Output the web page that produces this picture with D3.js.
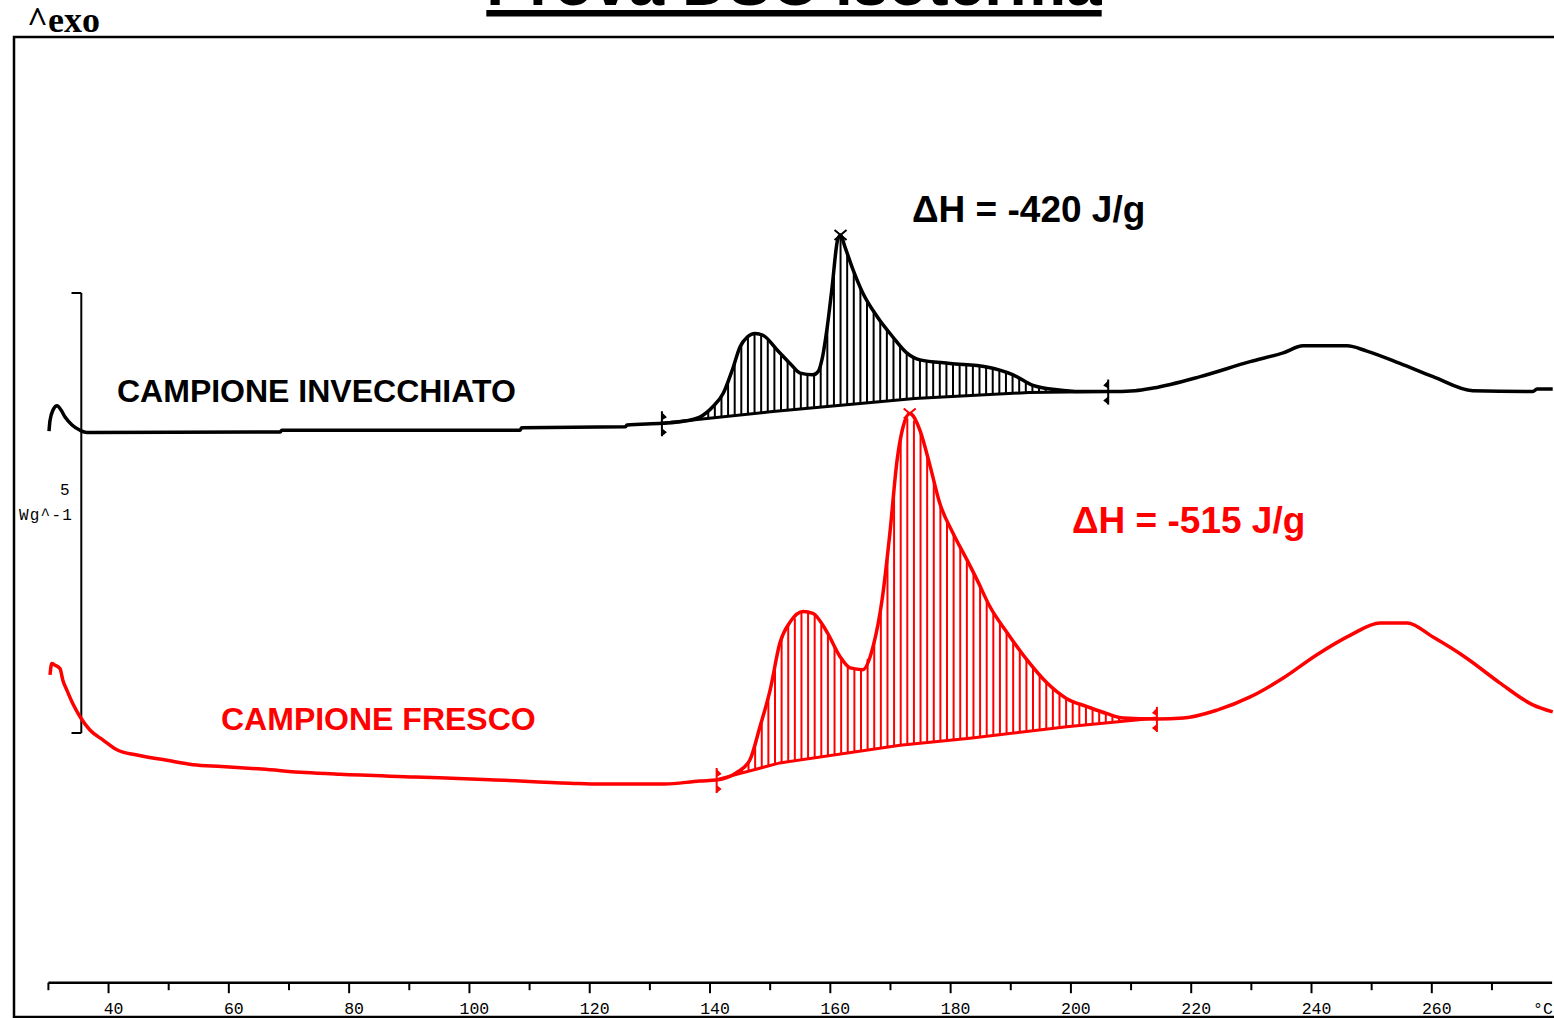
<!DOCTYPE html>
<html>
<head>
<meta charset="utf-8">
<script src="https://cdn.jsdelivr.net/npm/d3@7"></script>
<style>
  html, body { margin: 0; padding: 0; background: #fff; overflow: hidden; }
  svg { display: block; }
</style>
</head>
<body>
<script>
const width = 1554, height = 1018;

// campione invecchiato: temperatura (°C) e flusso termico (W/g, offset arbitrario)
const agedT = [30.1, 30.27, 30.77, 31.44, 32.1, 32.77, 33.93, 35.26, 36.4, 68.5, 68.8, 108.4, 108.7, 125.9, 126.2,
  132, 135.3, 138.3, 140.5, 142.2, 143.7, 145.0, 146.2, 147.5, 148.8, 151.2, 153.3, 155.0, 157.1, 158.0, 158.6,
  159.5, 160.3, 161.2, 161.7, 162.4, 163.8, 165.4, 167.8, 170.4, 172.7, 174.9, 179.9, 186.0, 190.4, 193.7, 197.7,
  201.5, 206.2, 210.7, 213.7, 221.5, 229.8, 235.3, 238.6, 245.9, 249.2, 254.7, 260.2, 266.8, 276.8, 277.5, 280.1];
const agedHF = [3.43, 3.55, 3.67, 3.72, 3.67, 3.59, 3.50, 3.44, 3.415, 3.42, 3.44, 3.44, 3.47, 3.48, 3.50,
  3.52, 3.54, 3.59, 3.71, 3.86, 4.125, 4.39, 4.50, 4.54, 4.52, 4.35, 4.20, 4.09, 4.07, 4.11, 4.24,
  4.62, 5.07, 5.60, 5.66, 5.53, 5.26, 5.00, 4.73, 4.50, 4.32, 4.24, 4.20, 4.16, 4.07, 3.95, 3.90,
  3.88, 3.88, 3.89, 3.92, 4.05, 4.22, 4.32, 4.40, 4.40, 4.34, 4.20, 4.05, 3.89, 3.88, 3.91, 3.91];

// campione fresco
const freshT = [30.27, 30.56, 31.1, 31.94, 32.4, 33.05, 34.15, 35.26, 36.9, 39.1, 41.4, 44.7, 49.7, 54.05, 58.8,
  65.5, 72.7, 78.5, 91.0, 103.4, 116.7, 121.7, 132.5, 138.3, 141.1, 144.4, 146.6, 148.3, 150.0, 151.6, 153.3,
  155.5, 157.1, 159.5, 161.6, 163.3, 165.4, 167.1, 168.6, 169.9, 171.1, 172.1, 173.2, 174.9, 176.6, 178.2, 180.4,
  182.7, 184.4, 186.5, 189.4, 192.7, 196.0, 199.3, 202.7, 206.0, 208.7, 214.3, 218.7, 224.3, 229.8, 235.3, 240.9,
  246.4, 251.4, 255.9, 260.2, 265.8, 271.3, 276.8, 280.1];
const freshHF = [0.66, 0.79, 0.77, 0.73, 0.60, 0.49, 0.32, 0.185, 0.034, -0.08, -0.19, -0.25, -0.31, -0.36, -0.38,
  -0.41, -0.45, -0.47, -0.50, -0.53, -0.57, -0.58, -0.58, -0.545, -0.534, -0.45, -0.31, 0.07, 0.49, 1.02, 1.26,
  1.38, 1.36, 1.14, 0.87, 0.74, 0.72, 0.98, 1.51, 2.27, 3.10, 3.48, 3.63, 3.44, 3.03, 2.61, 2.27,
  1.97, 1.74, 1.44, 1.14, 0.83, 0.57, 0.39, 0.30, 0.22, 0.17, 0.16, 0.17, 0.26, 0.41, 0.625, 0.89,
  1.11, 1.25, 1.25, 1.09, 0.85, 0.57, 0.32, 0.24];

// linee di base dell'integrazione
const agedBaseT = [132, 150, 174, 193, 206.2];
const agedBaseHF = [3.52, 3.65, 3.80, 3.87, 3.88];
const freshBaseT = [141.1, 151.6, 171.6, 183.2, 199.3, 214.3];
const freshBaseHF = [-0.53, -0.34, -0.14, -0.06, 0.07, 0.17];

// limiti di integrazione e picchi
const agedLimits = [132, 206.2];
const freshLimits = [141.1, 214.3];
const agedPeak = 161.7;
const freshPeak = 173.2;

const majorTicks = [40, 60, 80, 100, 120, 140, 160, 180, 200, 220, 240, 260];
const minorTicks = [30, 50, 70, 90, 110, 130, 150, 170, 190, 210, 230, 250, 270];
const tickLabels = ['40', '60', '80', '100', '120', '140', '160', '180', '200', '220', '240', '260'];
const scaleBar = [0, 5];

const RED = '#ff0000';
const sans = '"Liberation Sans", Arial, sans-serif';
const mono = '"Liberation Mono", "Courier New", monospace';

const x = d3.scaleLinear().domain([30, 280]).range([48.4, 1552.1]);
const y = d3.scaleLinear().domain([-3.2, 7.9]).range([1014.6, 37.8]);

const svg = d3.select('body').append('svg')
  .attr('width', width).attr('height', height)
  .style('background', '#fff');

// cornice
svg.append('path')
  .attr('d', `M${width + 5},37 H14 V1017 H${width + 5}`)
  .attr('fill', 'none').attr('stroke', '#000').attr('stroke-width', 2.5);

// titolo (tagliato in alto come nell'originale)
const title = svg.append('text')
  .attr('x', 794).attr('y', 5)
  .attr('text-anchor', 'middle')
  .style('font-family', sans).style('font-weight', 'bold').style('font-size', '64px')
  .text('Prova DSC isoterma');
const tw = title.node().getComputedTextLength();
svg.append('rect')
  .attr('x', 794 - tw / 2).attr('y', 10).attr('width', tw).attr('height', 6.5)
  .attr('fill', '#000');

svg.append('text')
  .attr('x', 27).attr('y', 32)
  .style('font-family', '"Liberation Serif", "Times New Roman", serif')
  .style('font-weight', 'bold').style('font-size', '36px')
  .text('^exo');

// asse x
const axisY = 982.7;
const gx = svg.append('g').attr('transform', `translate(0,${axisY})`);
gx.append('line')
  .attr('x1', x(30)).attr('x2', x(280)).attr('stroke', '#000').attr('stroke-width', 2.5);
gx.selectAll('line.minor').data(minorTicks).join('line')
  .attr('class', 'minor')
  .attr('x1', d => x(d)).attr('x2', d => x(d))
  .attr('y1', 0).attr('y2', 7.5)
  .attr('stroke', '#000').attr('stroke-width', 2);
gx.selectAll('line.major').data(majorTicks).join('line')
  .attr('class', 'major')
  .attr('x1', d => x(d)).attr('x2', d => x(d))
  .attr('y1', 0).attr('y2', 10.5)
  .attr('stroke', '#000').attr('stroke-width', 2);
gx.selectAll('text.tick').data(majorTicks).join('text')
  .attr('class', 'tick')
  .attr('x', d => x(d) + 5).attr('y', 31.5)
  .attr('text-anchor', 'middle')
  .style('font-family', mono).style('font-size', '16.5px')
  .text((d, i) => tickLabels[i]);
gx.append('text')
  .attr('x', x(280) - 19).attr('y', 31.5)
  .style('font-family', mono).style('font-size', '16.5px')
  .text('°C');

// barra di scala 5 W/g
const sb = svg.append('g').attr('stroke', '#000').attr('stroke-width', 2).attr('fill', 'none');
sb.append('line').attr('x1', 81.3).attr('x2', 81.3).attr('y1', y(scaleBar[0])).attr('y2', y(scaleBar[1]));
sb.selectAll('line.end').data(scaleBar).join('line')
  .attr('class', 'end')
  .attr('x1', 71.5).attr('x2', 81.3).attr('y1', d => y(d)).attr('y2', d => y(d));
svg.append('text')
  .attr('x', 69.5).attr('y', 494.5).attr('text-anchor', 'end')
  .style('font-family', mono).style('font-size', '16px')
  .text('5');
svg.append('text')
  .attr('x', 73).attr('y', 519.5).attr('text-anchor', 'end')
  .style('font-family', mono).style('font-size', '16px').style('letter-spacing', '1.2px')
  .text('Wg^-1');

function valueAt(Ts, Vs, t) {
  const i = Math.max(1, Math.min(Ts.length - 1, d3.bisectLeft(Ts, t)));
  const k = (t - Ts[i - 1]) / (Ts[i] - Ts[i - 1]);
  return Vs[i - 1] + k * (Vs[i] - Vs[i - 1]);
}

const line = d3.line().x(d => x(d[0])).y(d => y(d[1]));
const smooth = d3.line().x(d => x(d[0])).y(d => y(d[1])).curve(d3.curveMonotoneX);

function drawSample(Ts, Vs, baseT, baseV, limits, peak, color) {
  const g = svg.append('g');
  // tratteggio dell'area integrata
  const hatch = d3.range(Math.ceil(limits[0]), limits[1], 1.1)
    .map(t => [t, valueAt(baseT, baseV, t), valueAt(Ts, Vs, t)])
    .filter(d => y(d[1]) - y(d[2]) > 2);
  g.selectAll('line.hatch').data(hatch).join('line')
    .attr('x1', d => x(d[0])).attr('x2', d => x(d[0]))
    .attr('y1', d => y(d[1])).attr('y2', d => y(d[2]))
    .attr('stroke', color).attr('stroke-width', 2);
  // linea di base
  g.append('path')
    .attr('d', line(baseT.map((t, i) => [t, baseV[i]])))
    .attr('fill', 'none').attr('stroke', color).attr('stroke-width', 3);
  // curva
  g.append('path')
    .attr('d', smooth(Ts.map((t, i) => [t, Vs[i]])))
    .attr('fill', 'none').attr('stroke', color).attr('stroke-width', 3.5)
    .attr('stroke-linejoin', 'round');
  // limiti di integrazione
  limits.forEach((t, i) => {
    const px = x(t), py = y(valueAt(Ts, Vs, t));
    const s = i === 0 ? 1 : -1;
    const m = g.append('g').attr('transform', `translate(${px},${py})`);
    m.append('line').attr('y1', -12).attr('y2', 13).attr('stroke', color).attr('stroke-width', 2);
    m.append('path')
      .attr('d', `M0,-11 L${5 * s},-6 L0,-3 Z M0,5 L${5 * s},9 L0,13 Z`)
      .attr('fill', color);
  });
  // picco
  const ppx = x(peak), ppy = y(valueAt(Ts, Vs, peak));
  g.append('path')
    .attr('d', `M${ppx - 6},${ppy - 5} L${ppx + 6},${ppy + 5} M${ppx + 6},${ppy - 5} L${ppx - 6},${ppy + 5}`)
    .attr('stroke', color).attr('stroke-width', 2);
}

drawSample(agedT, agedHF, agedBaseT, agedBaseHF, agedLimits, agedPeak, '#000');
drawSample(freshT, freshHF, freshBaseT, freshBaseHF, freshLimits, freshPeak, RED);

// etichette
const labels = [
  { text: 'CAMPIONE INVECCHIATO', x: 117, y: 402, size: 32, color: '#000' },
  { text: 'CAMPIONE FRESCO', x: 221, y: 730, size: 32, color: RED },
  { text: 'ΔH = -420 J/g', x: 912, y: 222, size: 37, color: '#000' },
  { text: 'ΔH = -515 J/g', x: 1072, y: 533, size: 37, color: RED }
];
svg.selectAll('text.lbl').data(labels).join('text')
  .attr('class', 'lbl')
  .attr('x', d => d.x).attr('y', d => d.y)
  .attr('fill', d => d.color)
  .style('font-family', sans).style('font-weight', 'bold')
  .style('font-size', d => d.size + 'px')
  .text(d => d.text);
</script>
</body>
</html>
